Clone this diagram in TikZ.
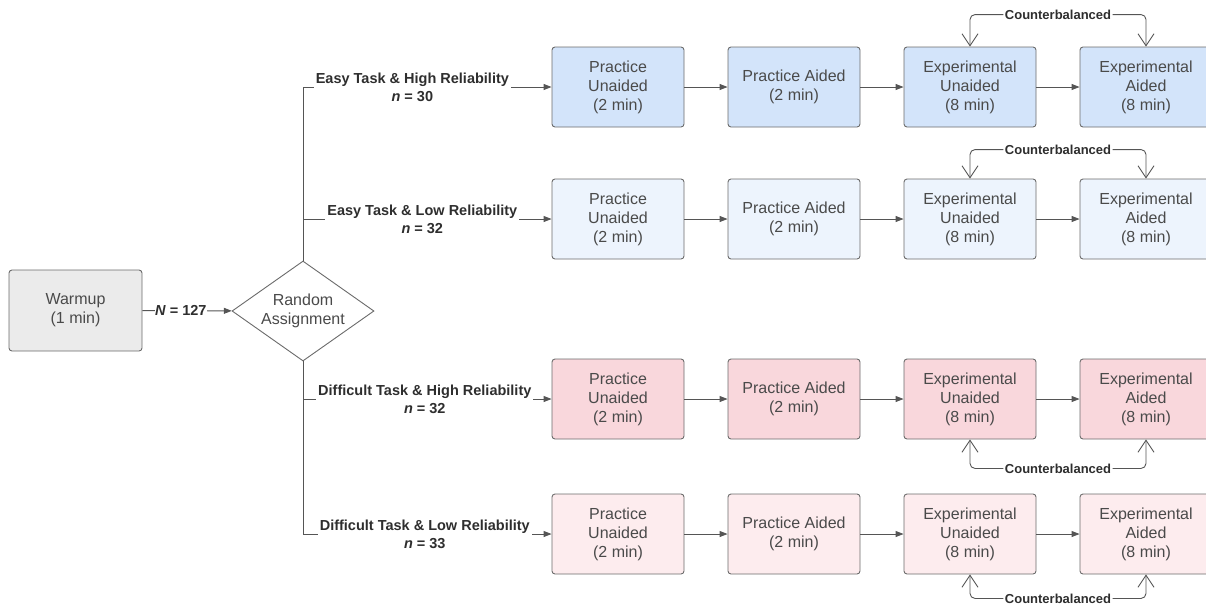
\documentclass[tikz,border=0pt]{standalone}
\usepackage{fontspec}
\setmainfont{Liberation Sans}
\usetikzlibrary{shapes.geometric,arrows.meta,calc}
\definecolor{bdr}{HTML}{6B6B6B}
\definecolor{txt}{HTML}{4A4A4A}
\definecolor{labtxt}{HTML}{2E2E2E}
\definecolor{bluea}{HTML}{D3E4FA}
\definecolor{blueb}{HTML}{EDF4FD}
\definecolor{pinka}{HTML}{F9D7DC}
\definecolor{pinkb}{HTML}{FDECEE}
\definecolor{greyf}{HTML}{EBEBEB}
\definecolor{lin}{HTML}{555555}
\begin{document}
\begin{tikzpicture}[x=1pt,y=-1pt,
  box/.style={draw=bdr, line width=0.9pt, rounded corners=3pt, minimum width=132pt,
    minimum height=80pt, inner sep=0pt, align=center, text=txt,
    font=\fontsize{16}{19}\selectfont},
  conn/.style={draw=lin, line width=0.9pt, -{Triangle[length=8pt,width=6pt]}},
  plainline/.style={draw=lin, line width=0.9pt},
  lab/.style={fill=white, inner sep=2pt, align=center, text=labtxt,
    font=\bfseries\fontsize{14.5}{18}\selectfont},
  cb/.style={draw=lin, line width=0.9pt, rounded corners=5pt,
    {Straight Barb[length=12pt,width=16pt]}-{Straight Barb[length=12pt,width=16pt]}},
  cblab/.style={fill=white, inner sep=1.5pt, text=labtxt,
    font=\bfseries\fontsize{13}{15}\selectfont},
]
\useasboundingbox (0,0) rectangle (1206,606);
\clip (0,0) rectangle (1206,606);

% start
\node[box, fill=greyf, minimum width=133pt, minimum height=81pt] (warm) at (75.5,310.5) {Warmup\\(1 min)};
\node[diamond, draw=bdr, fill=white, line width=0.9pt, aspect=1.42, inner sep=0pt,
  minimum width=142pt, minimum height=100pt, align=center, text=txt,
  font=\fontsize{16}{19}\selectfont] (dia) at (303,311) {Random\\Assignment};

% rows
\foreach \r/\y/\col in {1/87/bluea, 2/219/blueb, 3/399/pinka, 4/534/pinkb} {
  \node[box, fill=\col] (r\r c1) at (618,\y) {Practice\\Unaided\\(2 min)};
  \node[box, fill=\col] (r\r c2) at (794,\y) {Practice Aided\\(2 min)};
  \node[box, fill=\col] (r\r c3) at (970,\y) {Experimental\\Unaided\\(8 min)};
  \node[box, fill=\col] (r\r c4) at (1146,\y) {Experimental\\Aided\\(8 min)};
}

\coordinate (j2) at (dia.north |- r2c1.west);
\coordinate (j3) at (dia.south |- r3c1.west);

% warmup to assignment
\draw[conn] (warm) -- node[fill=white, inner sep=0.5pt, text=labtxt,
  font=\bfseries\fontsize{14.5}{18}\selectfont, pos=0.43] {\textit{N} = 127} (dia);

% branches
\draw[conn] (dia.north) |- node[lab, pos=0.72] {Easy Task \& High Reliability\\\textit{n} = 30} (r1c1);
\draw[conn] (j2) -- node[lab, pos=0.48] {Easy Task \& Low Reliability\\\textit{n} = 32} (r2c1);
\draw[conn] (j3) -- node[lab, pos=0.49] {Difficult Task \& High Reliability\\\textit{n} = 32} (r3c1);
\draw[conn] (dia.south) |- node[lab, pos=0.745] {Difficult Task \& Low Reliability\\\textit{n} = 33} (r4c1);

% row connectors
\foreach \r in {1,2,3,4} {
  \draw[conn] (r\r c1) -- (r\r c2);
  \draw[conn] (r\r c2) -- (r\r c3);
  \draw[conn] (r\r c3) -- (r\r c4);
}

% counterbalanced
\draw[cb] (r1c3.north) -- ++(0,-32) -| node[cblab, pos=0.25] {Counterbalanced} (r1c4.north);
\draw[cb] (r2c3.north) -- ++(0,-29) -| node[cblab, pos=0.25] {Counterbalanced} (r2c4.north);
\draw[cb] (r3c3.south) -- ++(0,29) -| node[cblab, pos=0.25] {Counterbalanced} (r3c4.south);
\draw[cb] (r4c3.south) -- ++(0,24) -| node[cblab, pos=0.25] {Counterbalanced} (r4c4.south);
\end{tikzpicture}
\end{document}
